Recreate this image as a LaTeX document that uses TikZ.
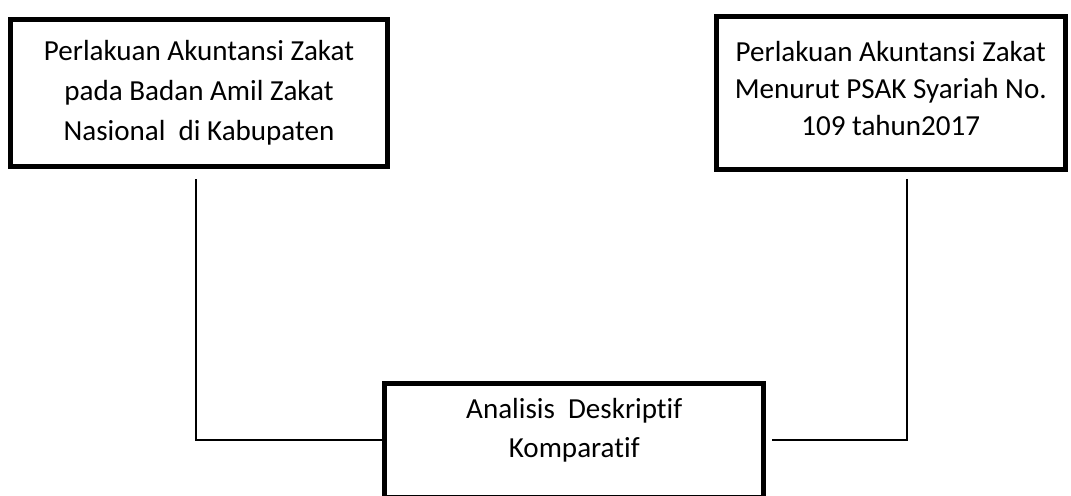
\documentclass[tikz,border=0pt]{standalone}
\usepackage{fontspec}
\setmainfont{Carlito}[Ligatures=NoCommon]
\usepackage{tikz}
\usetikzlibrary{calc}

\begin{document}
\begin{tikzpicture}[x=0.75pt, y=-0.75pt,
        box/.style={draw, line width=3.75pt, align=center, inner sep=0pt,
            font=\fontsize{21.8}{29}\selectfont},
        link/.style={line width=1.3pt}]
					\def\W{1071};
					\def\H{496};

					\useasboundingbox (0,0) rectangle (\W,\H);

					% the three boxes
					\node [box, minimum width=282.75pt, minimum height=110.25pt,
						font=\fontsize{21.8}{30}\selectfont] (badan) at (199,92.5)
						{Perlakuan Akuntansi Zakat\\pada Badan Amil Zakat\\Nasional~~di Kabupaten};
					\node [box, minimum width=261.4pt, minimum height=115.1pt,
						font=\fontsize{21.8}{27.75}\selectfont, text depth=6pt] (psak) at (890.75,92.75)
						{Perlakuan Akuntansi Zakat\\Menurut PSAK Syariah No.\\109 tahun2017};
					\node [box, minimum width=284.6pt, minimum height=85.5pt, text depth=18pt] (analisis) at (574.25,440)
						{Analisis~~Deskriptif\\Komparatif};

					% the two links
					\begin{scope}[link]
						\draw ($(badan.south)+(-3,10.5)$) |- (analisis.west);
						\draw ($(psak.south)+(16,7)$) |- ($(analisis.east)+(5.5,0)$);
					\end{scope}
				\end{tikzpicture}
\end{document}
